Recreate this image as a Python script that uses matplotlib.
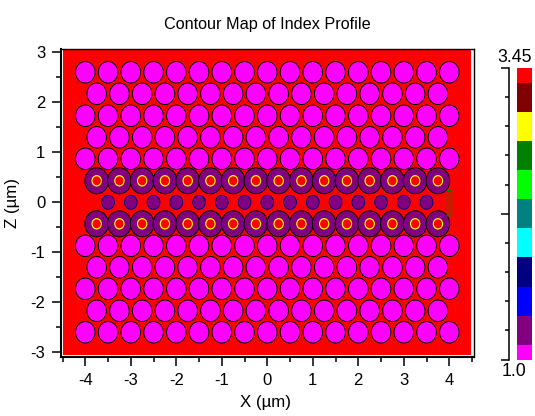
import numpy as np
import matplotlib
matplotlib.use('Agg')
import matplotlib.pyplot as plt
from matplotlib.patches import Circle, Rectangle
from matplotlib.colors import ListedColormap, BoundaryNorm

plt.rcParams['font.family'] = ['Liberation Sans', 'DejaVu Sans']

# hole lattice (um)
x_long = [-4.0, -3.5, -3.0, -2.5, -2.0, -1.5, -1.0, -0.5, 0.0, 0.5, 1.0, 1.5, 2.0, 2.5, 3.0, 3.5, 4.0]
x_offset = [-3.75, -3.25, -2.75, -2.25, -1.75, -1.25, -0.75, -0.25, 0.25, 0.75, 1.25, 1.75, 2.25, 2.75, 3.25, 3.75]
x_defect = [-3.5, -3.0, -2.5, -2.0, -1.5, -1.0, -0.5, 0.0, 0.5, 1.0, 1.5, 2.0, 2.5, 3.0, 3.5]
z_long = [2.6, 1.73, 0.87, -0.87, -1.73, -2.6]
z_offset = [2.17, 1.3, -1.3, -2.17]
z_core = [0.43, -0.43]
z_defect = [0.0]

r_hole = 0.215
r_core_outer = 0.26
r_core_ring = 0.115
r_core_centre = 0.09
r_defect = 0.14

domain_x = [-4.5, 4.47]
domain_z = [-3.05, 3.05]
monitor_x = [3.94, 4.03, 4.03, 3.94, 3.94]
monitor_z = [-0.25, -0.25, 0.25, 0.25, -0.25]

# colour bar
bar_colors = ['#ff00ff', '#800080', '#0000ff', '#000080', '#00ffff', '#008080',
              '#00ff00', '#008000', '#ffff00', '#800000', '#ff0000']
n_min = 1.0
n_max = 3.45

W, H = 535, 416
fig = plt.figure(figsize=(W / 100, H / 100), dpi=100)


def box(x0, y0, x1, y1):
    return [x0 / W, 1 - y1 / H, (x1 - x0) / W, (y1 - y0) / H]


ax = fig.add_axes(box(60.5, 49, 473.5, 356.5))
ax.set_xlim(-4 + (60.5 - 85.3) / 45.5, -4 + (473.5 - 85.3) / 45.5)
ax.set_ylim(-3 - (356.5 - 352.3) / 50, 3 + (52.3 - 49) / 50)


def hole(x, z, r, color, edge='black', lw=0.7):
    ax.add_patch(Circle((x, z), r, facecolor=color, edgecolor=edge, linewidth=lw, zorder=3))


ax.add_patch(Rectangle((domain_x[0], domain_z[0]), domain_x[1] - domain_x[0],
                       domain_z[1] - domain_z[0], facecolor='#ff0000', edgecolor='none', zorder=1))

for z in z_long:
    for x in x_long:
        hole(x, z, r_hole, '#ff00ff')
for z in z_offset:
    for x in x_offset:
        hole(x, z, r_hole, '#ff00ff')
for z in z_core:
    for x in x_offset:
        hole(x, z, r_core_outer, '#800080')
        hole(x, z, r_core_ring, '#ffff00', edge='#ffff00', lw=0)
        hole(x, z, r_core_centre, '#ff0000', edge='#ff0000', lw=0)
for z in z_defect:
    for x in x_defect:
        hole(x, z, r_defect, '#800080', edge='#000080', lw=0.7)

ax.plot(monitor_x, monitor_z, color='#008000', linewidth=1.0, zorder=5)

ax.set_xticks(range(-4, 5))
ax.set_yticks(range(-3, 4))
ax.set_xticks(np.arange(-4.5, 4.6, 1), minor=True)
ax.set_yticks(np.arange(-2.5, 2.6, 1), minor=True)
ax.set_xticklabels([str(v) for v in range(-4, 5)])
ax.set_yticklabels([str(v) for v in range(-3, 4)])
ax.tick_params(which='major', length=6.5, width=1.1, labelsize=12, color='black')
ax.tick_params(axis='x', which='major', pad=5.5)
ax.tick_params(axis='y', which='major', pad=4.5)
ax.tick_params(which='minor', length=3.5, width=1.1)
ax.spines['left'].set_linewidth(1.5)
ax.spines['bottom'].set_linewidth(1.5)
ax.spines['top'].set_linewidth(1.0)
ax.spines['right'].set_linewidth(1.0)

fig.text(267 / W, 1 - 25 / H, 'Contour Map of Index Profile', ha='center', va='center', fontsize=11.7)
fig.text(266 / W, 1 - 402 / H, 'X (\u00b5m)', ha='center', va='center', fontsize=12.2)
fig.text(13 / W, 1 - 203 / H, 'Z (\u00b5m)', ha='center', va='center', rotation=90, fontsize=12.2)

# colour bar, end bands are half height
step = (n_max - n_min) / 10
edges = [n_min] + [n_min + step * (i + 0.5) for i in range(10)] + [n_max]
cax = fig.add_axes(box(516.7, 68, 532.3, 359.5))
cmap = ListedColormap(bar_colors)
norm = BoundaryNorm(edges, cmap.N)
cax.pcolormesh([0, 1], edges, np.array([[(edges[i] + edges[i + 1]) / 2] for i in range(11)]),
               cmap=cmap, norm=norm)
cax.set_ylim(n_min, n_max)
cax.set_xticks([])
for s in ['top', 'right', 'bottom']:
    cax.spines[s].set_visible(False)
cax.spines['left'].set_position(('outward', 5.3))
cax.spines['left'].set_linewidth(1.1)
cax.set_yticks([n_min, n_min + 5 * step, n_max])
cax.set_yticks([n_min + step * i for i in range(1, 10) if i != 5], minor=True)
cax.set_yticklabels([])
cax.tick_params(which='major', length=6.0, width=1.1)
cax.tick_params(which='minor', length=3.0, width=1.1)

fig.text(515 / W, 1 - 57 / H, '3.45', ha='center', va='center', fontsize=12.8)
fig.text(514 / W, 1 - 372 / H, '1.0', ha='center', va='center', fontsize=12.8)

plt.savefig('out.png', dpi=100)
